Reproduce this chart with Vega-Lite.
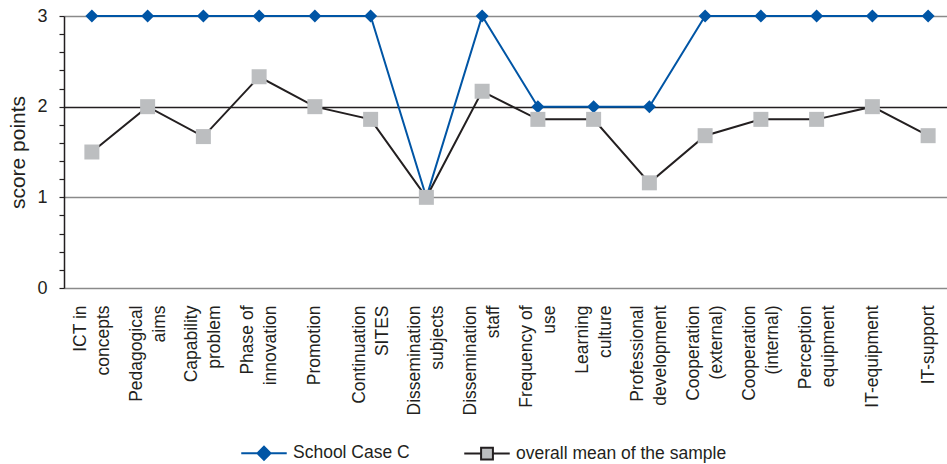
{
  "$schema": "https://vega.github.io/schema/vega-lite/v6.json",
  "width": 892,
  "height": 272,
  "autosize": {"type": "none"},
  "padding": {"left": 64, "top": 16, "right": 0, "bottom": 176},
  "config": {"view": {"stroke": null}, "font": "Liberation Sans"},
  "data": {"values": [
    {"item": "ICT in|concepts", "series": "School Case C", "value": 3},
    {"item": "Pedagogical|aims", "series": "School Case C", "value": 3},
    {"item": "Capability|problem", "series": "School Case C", "value": 3},
    {"item": "Phase of|innovation", "series": "School Case C", "value": 3},
    {"item": "Promotion", "series": "School Case C", "value": 3},
    {"item": "Continuation|SITES", "series": "School Case C", "value": 3},
    {"item": "Dissemination|subjects", "series": "School Case C", "value": 1},
    {"item": "Dissemination|staff", "series": "School Case C", "value": 3},
    {"item": "Frequency of|use", "series": "School Case C", "value": 2},
    {"item": "Learning|culture", "series": "School Case C", "value": 2},
    {"item": "Professional|development", "series": "School Case C", "value": 2},
    {"item": "Cooperation|(external)", "series": "School Case C", "value": 3},
    {"item": "Cooperation|(internal)", "series": "School Case C", "value": 3},
    {"item": "Perception|equipment", "series": "School Case C", "value": 3},
    {"item": "IT-equipment", "series": "School Case C", "value": 3},
    {"item": "IT-support", "series": "School Case C", "value": 3},
    {"item": "ICT in|concepts", "series": "overall mean of the sample", "value": 1.5},
    {"item": "Pedagogical|aims", "series": "overall mean of the sample", "value": 2.0},
    {"item": "Capability|problem", "series": "overall mean of the sample", "value": 1.67},
    {"item": "Phase of|innovation", "series": "overall mean of the sample", "value": 2.33},
    {"item": "Promotion", "series": "overall mean of the sample", "value": 2.0},
    {"item": "Continuation|SITES", "series": "overall mean of the sample", "value": 1.86},
    {"item": "Dissemination|subjects", "series": "overall mean of the sample", "value": 1.0},
    {"item": "Dissemination|staff", "series": "overall mean of the sample", "value": 2.17},
    {"item": "Frequency of|use", "series": "overall mean of the sample", "value": 1.86},
    {"item": "Learning|culture", "series": "overall mean of the sample", "value": 1.86},
    {"item": "Professional|development", "series": "overall mean of the sample", "value": 1.16},
    {"item": "Cooperation|(external)", "series": "overall mean of the sample", "value": 1.68},
    {"item": "Cooperation|(internal)", "series": "overall mean of the sample", "value": 1.86},
    {"item": "Perception|equipment", "series": "overall mean of the sample", "value": 1.86},
    {"item": "IT-equipment", "series": "overall mean of the sample", "value": 2.0},
    {"item": "IT-support", "series": "overall mean of the sample", "value": 1.68}
  ]},
  "encoding": {
    "x": {
      "field": "item", "type": "nominal", "sort": null,
      "scale": {"type": "point", "padding": 0.5},
      "axis": {
        "title": null, "labelAngle": 270, "labelAlign": "right", "labelBaseline": "middle",
        "labelExpr": "split(datum.label, '|')", "domain": false, "ticks": false,
        "labelOffset": {"condition": {"test": "indexof(datum.value, '|') >= 0", "value": -11.5}, "value": 0},
        "labelPadding": 17, "labelFontSize": 17.5, "labelColor": "#231f20",
        "labelLineHeight": 23, "labelFont": "Liberation Sans", "labelOverlap": false, "labelLimit": 0
      }
    },
    "y": {
      "field": "value", "type": "quantitative",
      "scale": {"domain": [0, 3], "nice": false, "zero": true},
      "axis": {
        "title": "score points", "titleFontSize": 21, "titleFontWeight": "normal",
        "titleColor": "#231f20", "titleFont": "Liberation Sans", "titlePadding": 8,
        "values": [0, 0.2, 0.4, 0.6, 0.8, 1, 1.2, 1.4, 1.6, 1.8, 2, 2.2, 2.4, 2.6, 2.8, 3],
        "labelExpr": "datum.value % 1 === 0 ? format(datum.value, 'd') : ''",
        "labelFontSize": 18, "labelColor": "#231f20", "labelPadding": 12, "labelFont": "Liberation Sans",
        "domainColor": "#231f20", "domainWidth": 1.5,
        "tickColor": "#231f20", "tickSize": 5, "tickWidth": 1.2,
        "grid": true,
        "gridColor": {"condition": {"test": "datum.value === 2", "value": "#231f20"}, "value": "#8a8a8a"},
        "gridOpacity": {"condition": {"test": "datum.value % 1 === 0", "value": 1}, "value": 0},
        "gridWidth": 1.3
      }
    }
  },
  "layer": [
    {
      "transform": [{"filter": "datum.series === 'School Case C'"}],
      "mark": {"type": "line", "strokeWidth": 2},
      "encoding": {
        "stroke": {
          "field": "series", "type": "nominal",
          "scale": {"domain": ["School Case C", "overall mean of the sample"], "range": ["#0055a5", "#231f20"]},
          "legend": {
            "title": null, "orient": "none", "direction": "horizontal",
            "legendX": 176, "legendY": 413,
            "symbolSize": 2070, "symbolStrokeWidth": 2,
            "labelFontSize": 17.5, "labelColor": "#231f20", "labelFont": "Liberation Sans",
            "labelOffset": 5, "columnPadding": 50, "labelLimit": 0,
            "encode": {"symbols": {"update": {
              "shape": {"signal": "datum.value === 'School Case C' ? 'M-1,0H1M0,-0.286L0.286,0L0,0.286L-0.286,0Z' : 'M-1,0H-0.26M0.26,0H1M-0.26,-0.26H0.26V0.26H-0.26Z'"},
              "fill": {"signal": "datum.value === 'School Case C' ? '#0055a5' : '#bcbec0'"},
              "fillOpacity": {"value": 1}
            }}}
          }
        }
      }
    },
    {
      "transform": [{"filter": "datum.series === 'School Case C'"}],
      "mark": {"type": "point", "shape": "diamond", "filled": true, "size": 169, "color": "#0055a5", "opacity": 1}
    },
    {
      "transform": [{"filter": "datum.series === 'overall mean of the sample'"}],
      "mark": {"type": "line", "strokeWidth": 2},
      "encoding": {
        "stroke": {
          "field": "series", "type": "nominal",
          "scale": {"domain": ["School Case C", "overall mean of the sample"], "range": ["#0055a5", "#231f20"]}
        }
      }
    },
    {
      "transform": [{"filter": "datum.series === 'overall mean of the sample'"}],
      "mark": {"type": "point", "shape": "square", "filled": true, "size": 225, "color": "#bcbec0", "opacity": 1}
    }
  ]
}
